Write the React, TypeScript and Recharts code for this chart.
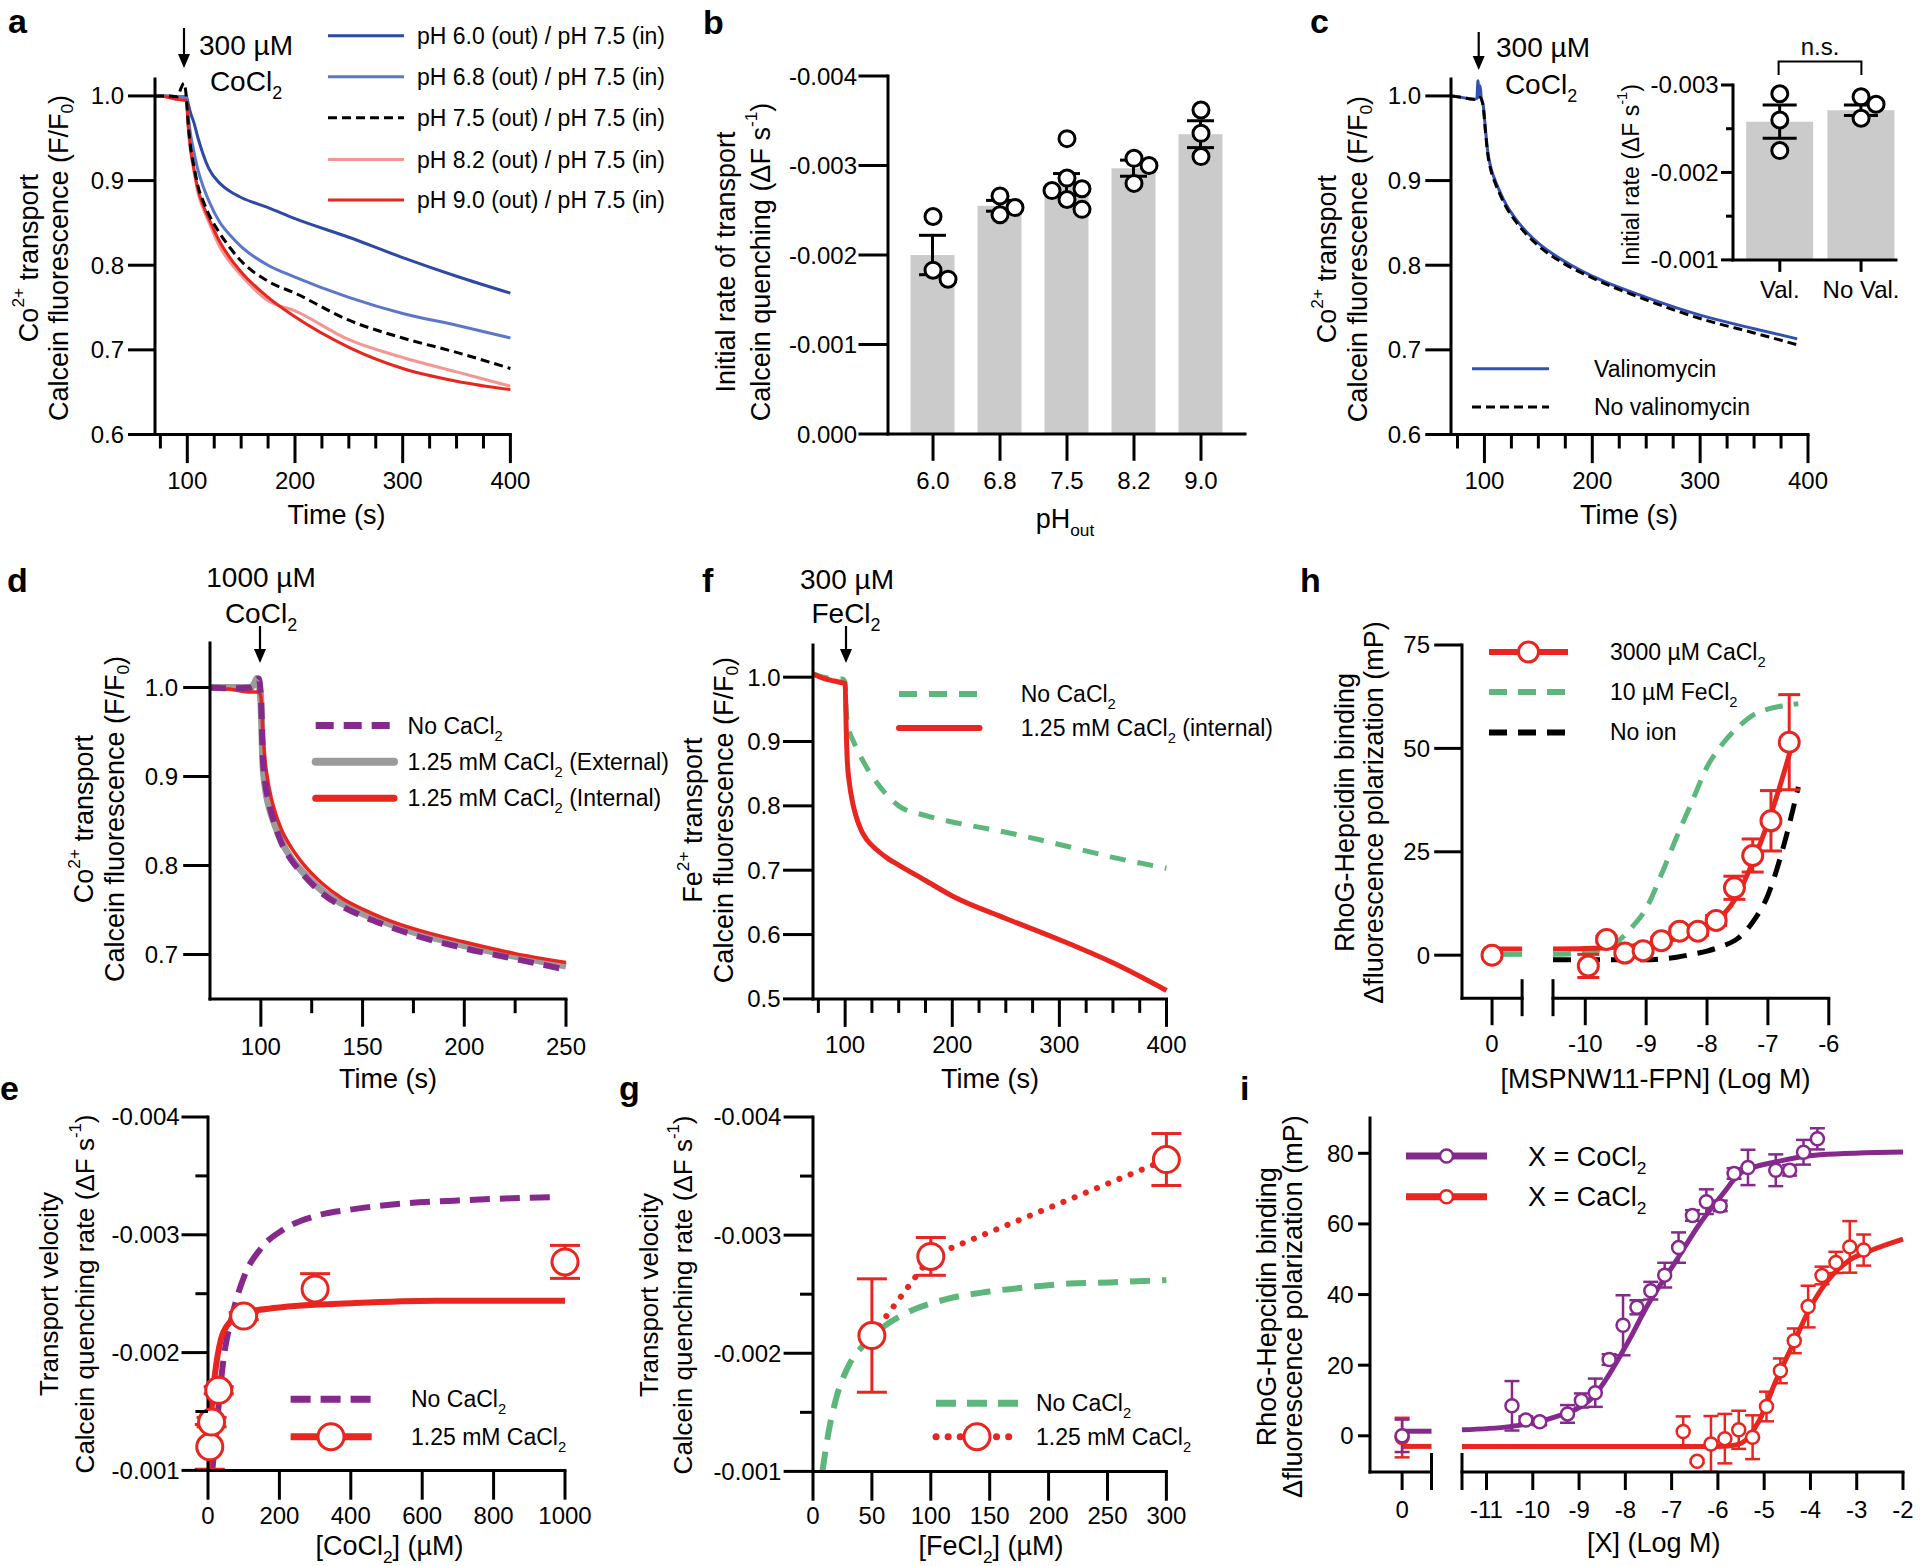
import React from "react";
import { ComposedChart, Line, Bar, Scatter, XAxis, YAxis, ErrorBar } from "recharts";

const FONT = "'Liberation Sans', Arial, Helvetica, sans-serif";
const INK = "#000";
const RED = "#e8251f";
const PURPLE = "#86298d";
const GREEN = "#5db67b";
const GREY = "#9b9b9b";
const NAVY = "#2c4aa5";
const BLUE = "#5b78c8";
const SALMON = "#f49692";
const VALBLUE = "#3351b3";
const BARFILL = "#cbcbcb";

// ---------- a: Co2+ transport at different external pH ----------
const aTime = [70, 80, 90, 97, 99, 101, 103, 106, 110, 115, 120, 130, 140, 150, 175, 200, 250, 300, 350, 400];
const aPh60 = [1.0, 1.0, 0.999, 0.999, 1.0, 0.99, 0.98, 0.969, 0.95, 0.93, 0.914, 0.897, 0.887, 0.88, 0.868, 0.855, 0.833, 0.809, 0.787, 0.767];
const aPh68 = [1.0, 1.0, 0.999, 0.998, 0.998, 0.975, 0.955, 0.935, 0.912, 0.892, 0.876, 0.851, 0.835, 0.822, 0.8, 0.786, 0.762, 0.743, 0.729, 0.714];
const aPh75 = [1.0, 1.0, 0.999, 1.015, 1.0, 0.965, 0.94, 0.918, 0.893, 0.875, 0.86, 0.838, 0.82, 0.805, 0.781, 0.767, 0.735, 0.714, 0.697, 0.678];
const aPh82 = [1.0, 0.999, 0.996, 0.995, 0.995, 0.96, 0.935, 0.912, 0.885, 0.866, 0.851, 0.822, 0.803, 0.788, 0.758, 0.746, 0.712, 0.691, 0.674, 0.657];
const aPh90 = [1.0, 0.999, 0.996, 0.995, 0.995, 0.962, 0.938, 0.915, 0.889, 0.87, 0.855, 0.828, 0.808, 0.792, 0.762, 0.739, 0.703, 0.678, 0.663, 0.653];
const aNames = ["pH 6.0 (out) / pH 7.5 (in)", "pH 6.8 (out) / pH 7.5 (in)", "pH 7.5 (out) / pH 7.5 (in)", "pH 8.2 (out) / pH 7.5 (in)", "pH 9.0 (out) / pH 7.5 (in)"];
const timeTicks = [75, 100, 125, 150, 175, 200, 225, 250, 275, 300, 325, 350, 375, 400];
const timeMajor = [100, 200, 300, 400];
const fluoTicks = [0.6, 0.7, 0.8, 0.9, 1.0];

// ---------- b: initial rate vs pH out ----------
const bCats = ["6.0", "6.8", "7.5", "8.2", "9.0"];
const bMean = [-0.002, -0.00255, -0.00279, -0.00297, -0.00335];
const bSem = [0.00022, 0.00006, 0.00012, 0.00009, 0.00015];
const bDots = [
  [-0.00243, -0.00173, -0.00183],
  [-0.00266, -0.00245, -0.00253],
  [-0.0033, -0.00272, -0.00286, -0.00274, -0.00251, -0.00262],
  [-0.00308, -0.003, -0.0028],
  [-0.00362, -0.00336, -0.0031],
];
const rateTicks = [-0.004, -0.003, -0.002, -0.001, 0];

// ---------- c: valinomycin ----------
const cTime = [70, 80, 90, 93, 94, 95, 96, 97, 99, 101, 103, 106, 110, 115, 120, 130, 140, 150, 175, 200, 250, 300, 350, 390];
const cVal = [1.0, 0.998, 0.996, 0.997, 1.018, 0.998, 1.012, 0.998, 0.988, 0.96, 0.935, 0.915, 0.9, 0.885, 0.872, 0.853, 0.838, 0.826, 0.804, 0.787, 0.762, 0.741, 0.725, 0.713];
const cNoVal = [1.0, 0.998, 0.996, 0.997, 0.997, 0.997, 0.998, 0.997, 0.986, 0.957, 0.932, 0.912, 0.897, 0.882, 0.869, 0.85, 0.835, 0.823, 0.801, 0.785, 0.759, 0.737, 0.72, 0.706];
const ciCats = ["Val.", "No Val."];
const ciMean = [-0.00258, -0.00271];
const ciSem = [0.00019, 0.00006];
const ciDots = [
  [-0.0029, -0.0026, -0.00225],
  [-0.002865, -0.00278, -0.00262],
];

// ---------- d: 1000 uM CoCl2 with/without Ca ----------
const dTime = [75, 85, 95, 97, 98, 99, 100, 101, 102, 104, 107, 110, 115, 120, 130, 140, 150, 160, 175, 200, 225, 250];
const dNoCa = [1.0, 0.999, 1.0, 1.003, 1.008, 1.01, 0.99, 0.92, 0.895, 0.87, 0.845, 0.826, 0.806, 0.792, 0.769, 0.754, 0.743, 0.734, 0.722, 0.707, 0.695, 0.683];
const dCaExt = [1.0, 1.0, 1.0, 1.005, 1.01, 1.005, 0.985, 0.915, 0.89, 0.866, 0.845, 0.828, 0.808, 0.794, 0.772, 0.757, 0.746, 0.737, 0.725, 0.71, 0.698, 0.687];
const dCaInt = [1.0, 0.998, 0.995, 0.995, 0.995, 0.995, 0.99, 0.95, 0.92, 0.888, 0.86, 0.841, 0.82, 0.804, 0.78, 0.763, 0.751, 0.741, 0.729, 0.714, 0.701, 0.691];

// ---------- e: CoCl2 dose response ----------
const eNoCaX = [12, 25, 42, 70, 103, 147, 214, 302, 413, 524, 690, 850, 965];
const eNoCaY = [-0.001, -0.0014, -0.00191, -0.00234, -0.00266, -0.00288, -0.00305, -0.00316, -0.00322, -0.00326, -0.00329, -0.00331, -0.00332];
const eFitX = [0, 3, 9, 20, 36, 59, 103, 192, 413, 635, 1000];
const eFitY = [-0.00118, -0.0013, -0.00149, -0.00183, -0.00211, -0.00225, -0.00234, -0.00238, -0.00242, -0.00244, -0.00244];
const eCaX = [5, 10, 30, 100, 300, 1000];
const eCaY = [-0.0012, -0.00141, -0.00168, -0.00231, -0.00254, -0.00277];
const eCaErr = [0.00019, 0.00004, 0.00003, 0.00003, 0.00013, 0.00014];

// ---------- f: Fe2+ transport ----------
const fTime = [70, 80, 90, 98, 100, 101, 102, 104, 107, 110, 115, 120, 130, 140, 150, 175, 200, 250, 300, 350, 400];
const fCaInt = [1.005, 0.998, 0.994, 0.991, 0.99, 0.92, 0.87, 0.835, 0.805, 0.785, 0.762, 0.748, 0.731, 0.718, 0.708, 0.684, 0.66, 0.625, 0.592, 0.556, 0.513];
const fNoCa = [1.005, 1.0, 0.998, 0.997, 0.992, 0.95, 0.93, 0.915, 0.903, 0.892, 0.875, 0.86, 0.835, 0.815, 0.8, 0.785, 0.775, 0.759, 0.74, 0.72, 0.703];

// ---------- g: FeCl2 dose response ----------
const gNoCaX = [8, 13, 20, 30, 44, 62, 79, 114, 148, 183, 218, 252, 300];
const gNoCaY = [-0.001, -0.00132, -0.00163, -0.00189, -0.00208, -0.00224, -0.00234, -0.00246, -0.00252, -0.00256, -0.00259, -0.0026, -0.00262];
const gCaX = [50, 100, 300];
const gCaY = [-0.00215, -0.00282, -0.00364];
const gCaErr = [0.00048, 0.00016, 0.00022];

// ---------- h: hepcidin binding vs MSPNW11-FPN ----------
const hFitX = [-10.53, -10, -9.5, -9.25, -9, -8.75, -8.5, -8.25, -8, -7.75, -7.5, -7.25, -7, -6.75, -6.5];
const hFe = [0.2, 0.6, 3.0, 6.5, 11.3, 19.5, 28.5, 37, 45.5, 51, 55, 58, 59.5, 60.3, 60.8];
const hNoIon = [-1.1, -1.1, -1.1, -1.1, -1.1, -0.9, -0.5, 0.2, 1.0, 2.2, 4.0, 8.0, 14.5, 26, 40.7];
const hCaFitX = [-10.53, -10, -9.5, -9, -8.5, -8, -7.75, -7.5, -7.25, -7, -6.8, -6.62];
const hCaFitY = [1.5, 1.6, 1.9, 2.6, 4.0, 6.8, 9.5, 14.5, 22.5, 32, 41, 50];
const hCaX = [-9.95, -9.65, -9.35, -9.05, -8.75, -8.45, -8.15, -7.85, -7.55, -7.25, -6.95, -6.65];
const hCaY = [-2.6, 3.8, 0.5, 1.1, 3.5, 5.8, 5.8, 8.4, 16.3, 24.1, 32.5, 51.5];
const hCaErr = [2.8, 0.8, 0.5, 0.5, 0.8, 1.0, 1.0, 1.2, 2.8, 4.0, 7.3, 11.5];
const hZero = { ca: 0, caErr: 0.6, caFit: 1.5, feFit: 0.2 };

// ---------- i: hepcidin binding vs [X] ----------
const iCoX = [-10.45, -10.15, -9.85, -9.25, -8.95, -8.65, -8.35, -8.05, -7.75, -7.45, -7.15, -6.85, -6.55, -6.25, -5.95, -5.65, -5.35, -4.75, -4.45, -4.15, -3.85];
const iCoY = [8.5, 4.5, 4.0, 6.2, 10.0, 12.2, 21.6, 31.3, 36.4, 41.1, 45.5, 53.3, 62.4, 66.3, 65.1, 74.3, 76.0, 75.2, 75.2, 80.3, 84.1];
const iCoErr = [7.0, 1.0, 1.0, 2.5, 2.0, 4.0, 1.5, 8.5, 2.0, 2.5, 3.5, 4.3, 1.5, 3.5, 1.5, 1.5, 5.0, 4.5, 1.5, 3.5, 3.0];
const iCoFitX = [-11.53, -10.5, -9.6, -8.7, -8.0, -7.5, -6.9, -6.4, -5.9, -5.5, -4.7, -3.8, -2.0];
const iCoFitY = [1.7, 2.6, 5.0, 11.0, 25.2, 37.4, 49.6, 59.9, 68.4, 74.5, 77.7, 79.6, 80.4];
const iCaX = [-6.75, -6.45, -6.15, -5.85, -5.55, -5.25, -4.95, -4.65, -4.35, -4.05, -3.75, -3.45, -3.15, -2.85];
const iCaY = [1.2, -7.2, -2.3, -0.8, 1.7, -0.4, 8.3, 18.4, 26.9, 36.6, 45.4, 49.1, 53.5, 52.6];
const iCaErr = [4.3, 0.5, 7.9, 7.0, 5.4, 6.2, 4.2, 3.5, 3.5, 5.9, 2.5, 3.0, 7.3, 4.4];
const iCaFitX = [-11.53, -6.0, -5.8, -5.5, -5.1, -4.74, -4.37, -4.0, -3.63, -3.17, -2.71, -2.0];
const iCaFitY = [-3.0, -3.0, -2.9, -2.1, 4.5, 15.8, 26.1, 36.4, 43.9, 49.6, 52.4, 55.7];
const iZero = { co: 0, coErr: 4.6, ca: -0.5, caErr: 5.6, coFit: 1.3, caFit: -3.0 };

// ---------- helpers ----------
const rows = (xs: number[], ys: number[]) => xs.map((x, i) => ({ x, y: ys[i] }));
const pts = (xs: number[], ys: number[], es: number[]) => xs.map((x, i) => ({ x, y: ys[i], e: es[i] }));
const near = (list: number[], v: number) => list.some((m) => Math.abs(m - v) < 1e-7);

// simple beeswarm: horizontal offsets so replicate dots do not sit on top of each other
function swarm(groups: number[][], pxPerUnit: number, step: number, minDist: number) {
  return groups.map((vals) => {
    const order = vals.map((_, i) => i).sort((a, b) => vals[a] - vals[b]);
    const placed: { x: number; y: number }[] = [];
    const out = vals.map(() => 0);
    for (const i of order) {
      const y = vals[i] * pxPerUnit;
      for (let k = 0; k < 12; k++) {
        const dx = k === 0 ? 0 : (k % 2 ? 1 : -1) * Math.ceil(k / 2) * step;
        if (placed.every((p) => Math.hypot(p.x - dx, p.y - y) >= minDist)) {
          out[i] = dx;
          placed.push({ x: dx, y });
          break;
        }
      }
    }
    return out;
  });
}

type Rect = [number, number, number, number];
const PL = 110, PR = 30, PT = 30, PB = 80;
const AXIS = { stroke: INK, strokeWidth: 3, strokeLinecap: "square" };

function Box({ r, hideY = false, data, children }: { r: Rect; hideY?: boolean; data?: any[]; children?: React.ReactNode }) {
  const w = r[2] - r[0] + PL + PR;
  const h = r[3] - r[1] + PT + PB;
  return (
    <div style={{ position: "absolute", left: r[0] - PL, top: r[1] - PT, width: w, height: h }}>
      <ComposedChart width={w} height={h} data={data} margin={{ top: PT, right: PR, bottom: 0, left: hideY ? PL : 0 }}>
        {children}
      </ComposedChart>
    </div>
  );
}

type XT = { major: number[]; len: number; minor?: number; gap: number; fmt?: (v: number) => string; breaks?: number[] };
const xTick = (o: XT) => (p: any) => {
  const v = Number(p.payload.value);
  const { x, y } = p;
  if (o.breaks && near(o.breaks, v)) {
    return <line x1={x} x2={x} y1={y - 19} y2={y + 18} stroke={INK} strokeWidth={3} />;
  }
  const major = near(o.major, v);
  return (
    <g>
      <line x1={x} x2={x} y1={y} y2={y + (major ? o.len : o.minor ?? 0)} stroke={INK} strokeWidth={3} />
      {major && (
        <text x={x} y={y + o.gap} textAnchor="middle" fontSize={24} fontFamily={FONT} fill={INK}>
          {o.fmt ? o.fmt(v) : String(v)}
        </text>
      )}
    </g>
  );
};

type YT = { major: number[]; len: number; minor?: number; gap: number; fmt?: (v: number) => string };
const yTick = (o: YT) => (p: any) => {
  const v = Number(p.payload.value);
  const { x, y } = p;
  const major = near(o.major, v);
  return (
    <g>
      <line x1={x - (major ? o.len : o.minor ?? 0)} x2={x} y1={y} y2={y} stroke={INK} strokeWidth={3} />
      {major && (
        <text x={x - o.gap} y={y + 8.5} textAnchor="end" fontSize={24} fontFamily={FONT} fill={INK}>
          {o.fmt ? o.fmt(v) : String(v)}
        </text>
      )}
    </g>
  );
};

const xAx = (domain: [number, number], ticks: number[], tick: any) => ({
  type: "number" as const, dataKey: "x", domain, ticks, tick, interval: 0 as const,
  tickSize: 0, tickMargin: 0, tickLine: false, axisLine: AXIS, height: PB,
});
const yAx = (domain: [number, number], ticks: number[], tick: any, reversed = false) => ({
  type: "number" as const, dataKey: "y", domain, ticks, tick, interval: 0 as const,
  tickSize: 0, tickMargin: 0, tickLine: false, axisLine: AXIS, width: PL, reversed,
});
const trace = (data: any[], stroke: string, strokeWidth: number, dash?: string, cap?: "round" | "butt", curve: "monotone" | "linear" = "monotone") => ({
  data, dataKey: "y", type: curve, stroke, strokeWidth, strokeDasharray: dash, strokeLinecap: cap,
  dot: false, activeDot: false, isAnimationActive: false,
});
const ring = (r: number, stroke: string, sw: number, shift?: (p: any) => number) => (p: any) => (
  <circle cx={p.cx + (shift ? shift(p) : 0)} cy={p.cy} r={r} fill="#fff" stroke={stroke} strokeWidth={sw} />
);

const f1 = (v: number) => v.toFixed(1);
const f3 = (v: number) => v.toFixed(3);

// rich text: _{..} subscript, ^{..} superscript
function rich(s: string, fs: number) {
  const out: React.ReactNode[] = [];
  const re = /([_^])\{([^}]*)\}/g;
  let shift = 0, last = 0, k = 0, m: RegExpExecArray | null;
  while ((m = re.exec(s))) {
    if (m.index > last) {
      out.push(<tspan key={k++} dy={-shift}>{s.slice(last, m.index)}</tspan>);
      shift = 0;
    }
    const d = m[1] === "_" ? fs * 0.3 : -fs * 0.38;
    out.push(<tspan key={k++} dy={d - shift} fontSize={fs * 0.64}>{m[2]}</tspan>);
    shift = d;
    last = re.lastIndex;
  }
  if (last < s.length) out.push(<tspan key={k++} dy={-shift}>{s.slice(last)}</tspan>);
  return out;
}
const T = ({ x, y, s, fs = 23, anchor = "start" }: { x: number; y: number; s: string; fs?: number; anchor?: string }) => (
  <text x={x} y={y} fontSize={fs} textAnchor={anchor as any}>{rich(s, fs)}</text>
);
const VT = ({ x, y, s, fs = 27 }: { x: number; y: number; s: string; fs?: number }) => (
  <text x={x} y={y} fontSize={fs} textAnchor="middle" dominantBaseline="central" transform={`rotate(-90 ${x} ${y})`}>{rich(s, fs)}</text>
);
const Arrow = ({ x, y0, y1 }: { x: number; y0: number; y1: number }) => (
  <g>
    <line x1={x} x2={x} y1={y0} y2={y1 - 8} stroke={INK} strokeWidth={2.2} />
    <path d={`M${x - 6},${y1 - 14} L${x},${y1} L${x + 6},${y1 - 14} Z`} fill={INK} />
  </g>
);
const Leg = ({ x0, x1, y, stroke, sw, dash, cap }: { x0: number; x1: number; y: number; stroke: string; sw: number; dash?: string; cap?: any }) => (
  <line x1={x0} x2={x1} y1={y} y2={y} stroke={stroke} strokeWidth={sw} strokeDasharray={dash} strokeLinecap={cap} />
);

// ---------- layout (plot rectangles in page pixels) ----------
const aR: Rect = [155, 78.5, 510.4, 434];
const bR: Rect = [888, 76, 1245, 434];
const cR: Rect = [1451, 78.5, 1808, 434];
const ciR: Rect = [1733, 84.6, 1896, 259.5];
const dR: Rect = [210, 643, 566, 999];
const fR: Rect = [812.5, 644.5, 1166, 998.4];
const hLR: Rect = [1461.5, 644.5, 1521.6, 997.7];
const hRR: Rect = [1553, 644.5, 1828.8, 997.7];
const eR: Rect = [208.4, 1117.3, 565.4, 1470.7];
const gR: Rect = [812.6, 1117.3, 1166, 1471.7];
const iLR: Rect = [1369.5, 1118.3, 1431, 1472.3];
const iRR: Rect = [1461.5, 1118.3, 1902.5, 1472.3];

const bSpread = swarm(bDots, (bR[3] - bR[1]) / 0.004, 15, 15);
const ciSpread = swarm(ciDots, (ciR[3] - ciR[1]) / 0.002, 15, 15);
const bBars = bCats.map((_, i) => ({ x: i, y: bMean[i], e: bSem[i] }));
const bPts = bDots.flatMap((vals, ci) => vals.map((y, j) => ({ x: ci, y, j })));
const ciBars = ciCats.map((_, i) => ({ x: i, y: ciMean[i], e: ciSem[i] }));
const ciPts = ciDots.flatMap((vals, ci) => vals.map((y, j) => ({ x: ci, y, j })));

const letters: [string, number, number][] = [
  ["a", 8, 33], ["b", 703, 34], ["c", 1310, 33], ["d", 7, 592], ["f", 702, 592],
  ["h", 1300, 592], ["e", 0, 1100], ["g", 619, 1100], ["i", 1240, 1100],
];
const aLegY = [35.7, 76.8, 117.8, 159.6, 200];
const aLegStyle = [
  { c: NAVY }, { c: BLUE }, { c: INK, dash: "9 5" }, { c: SALMON }, { c: RED },
];
const rateMinor = [-0.004, -0.0035, -0.003, -0.0025, -0.002, -0.0015, -0.001];
const rateMajor = [-0.004, -0.003, -0.002, -0.001];

export default function App() {
  return (
    <div style={{ position: "absolute", left: 0, top: 0, width: 1920, height: 1566, background: "#fff", overflow: "hidden" }}>
      {/* a */}
      <Box r={aR}>
        <XAxis {...xAx([70, 400], timeTicks, xTick({ major: timeMajor, len: 28.6, minor: 14, gap: 54.6 }))} />
        <YAxis {...yAx([0.6, 1.02], fluoTicks, yTick({ major: fluoTicks, len: 27, gap: 31, fmt: f1 }))} />
        <Line {...trace(rows(aTime, aPh60), NAVY, 3)} />
        <Line {...trace(rows(aTime, aPh68), BLUE, 3)} />
        <Line {...trace(rows(aTime, aPh82), SALMON, 3)} />
        <Line {...trace(rows(aTime, aPh90), RED, 3)} />
        <Line {...trace(rows(aTime, aPh75), INK, 3, "9 5")} />
      </Box>

      {/* b */}
      <Box r={bR} data={bBars}>
        <XAxis {...xAx([-0.672, 4.657], [0, 1, 2, 3, 4], xTick({ major: [0, 1, 2, 3, 4], len: 26.8, gap: 54.6, fmt: (v) => bCats[v] }))} />
        <YAxis {...yAx([-0.004, 0], rateTicks, yTick({ major: rateTicks, len: 29.5, gap: 31, fmt: f3 }), true)} />
        <Bar dataKey="y" fill={BARFILL} barSize={44} isAnimationActive={false}>
          <ErrorBar dataKey="e" width={13.5} strokeWidth={3} stroke={INK} />
        </Bar>
        <Scatter data={bPts} dataKey="y" isAnimationActive={false} shape={ring(8, INK, 3, (p) => bSpread[p.payload.x][p.payload.j])} />
      </Box>

      {/* c main */}
      <Box r={cR}>
        <XAxis {...xAx([69, 400], timeTicks, xTick({ major: timeMajor, len: 28.6, minor: 14, gap: 54.6 }))} />
        <YAxis {...yAx([0.6, 1.02], fluoTicks, yTick({ major: fluoTicks, len: 25.7, gap: 30, fmt: f1 }))} />
        <Line {...trace(rows(cTime, cVal), VALBLUE, 3)} />
        <Line {...trace(rows(cTime, cNoVal), INK, 3, "9 5")} />
      </Box>

      {/* c inset */}
      <Box r={ciR} data={ciBars}>
        <XAxis {...xAx([-0.576, 1.43], [0, 1], xTick({ major: [0, 1], len: 12, gap: 38, fmt: (v) => ciCats[v] }))} />
        <YAxis {...yAx([-0.003, -0.001], [-0.003, -0.0025, -0.002, -0.0015, -0.001], yTick({ major: [-0.003, -0.002, -0.001], len: 12, minor: 7, gap: 14.4, fmt: f3 }), true)} />
        <Bar dataKey="y" fill={BARFILL} barSize={67} isAnimationActive={false}>
          <ErrorBar dataKey="e" width={17} strokeWidth={3} stroke={INK} />
        </Bar>
        <Scatter data={ciPts} dataKey="y" isAnimationActive={false} shape={ring(8, INK, 3, (p) => ciSpread[p.payload.x][p.payload.j])} />
      </Box>

      {/* d */}
      <Box r={dR}>
        <XAxis {...xAx([75, 250], [100, 125, 150, 175, 200, 225, 250], xTick({ major: [100, 150, 200, 250], len: 27.7, minor: 14.2, gap: 55.6 }))} />
        <YAxis {...yAx([0.65, 1.05], [0.7, 0.8, 0.9, 1.0], yTick({ major: [0.7, 0.8, 0.9, 1.0], len: 26.8, gap: 32, fmt: f1 }))} />
        <Line {...trace(rows(dTime, dCaExt), GREY, 7)} />
        <Line {...trace(rows(dTime, dCaInt), RED, 3.5)} />
        <Line {...trace(rows(dTime, dNoCa), PURPLE, 6, "16 10")} />
      </Box>

      {/* f */}
      <Box r={fR}>
        <XAxis {...xAx([70, 400], timeTicks, xTick({ major: timeMajor, len: 28, minor: 14, gap: 54 }))} />
        <YAxis {...yAx([0.5, 1.05], [0.5, 0.6, 0.7, 0.8, 0.9, 1.0], yTick({ major: [0.5, 0.6, 0.7, 0.8, 0.9, 1.0], len: 30, gap: 32.5, fmt: f1 }))} />
        <Line {...trace(rows(fTime, fNoCa), GREEN, 5, "16 12")} />
        <Line {...trace(rows(fTime, fCaInt), RED, 5)} />
      </Box>

      {/* h left (no protein) */}
      <Box r={hLR}>
        <XAxis {...xAx([-1, 1], [0, 1], xTick({ major: [0], len: 27, gap: 54, breaks: [1] }))} />
        <YAxis {...yAx([-10.4, 75], [0, 25, 50, 75], yTick({ major: [0, 25, 50, 75], len: 27.8, gap: 32 }))} />
        <Line {...trace(rows([0, 1], [hZero.feFit, hZero.feFit]), GREEN, 5, undefined, undefined, "linear")} />
        <Line {...trace(rows([0, 1], [hZero.caFit, hZero.caFit]), RED, 5, undefined, undefined, "linear")} />
        <Scatter data={pts([0], [hZero.ca], [hZero.caErr])} dataKey="y" isAnimationActive={false} shape={ring(10, RED, 3)}>
          <ErrorBar dataKey="e" direction="y" width={11} strokeWidth={3} stroke={RED} />
        </Scatter>
      </Box>

      {/* h right */}
      <Box r={hRR} hideY>
        <XAxis {...xAx([-10.53, -6], [-10.53, -10, -9, -8, -7, -6], xTick({ major: [-10, -9, -8, -7, -6], len: 27, gap: 54, breaks: [-10.53] }))} />
        <YAxis type="number" dataKey="y" domain={[-10.4, 75]} hide />
        <Line {...trace(rows(hFitX, hFe), GREEN, 5, "18 11")} />
        <Line {...trace(rows(hFitX, hNoIon), INK, 5, "18 11")} />
        <Line {...trace(rows(hCaFitX, hCaFitY), RED, 5)} />
        <Scatter data={pts(hCaX, hCaY, hCaErr)} dataKey="y" isAnimationActive={false} shape={ring(10, RED, 3)}>
          <ErrorBar dataKey="e" direction="y" width={11} strokeWidth={3} stroke={RED} />
        </Scatter>
      </Box>

      {/* e */}
      <Box r={eR}>
        <XAxis {...xAx([0, 1000], [0, 200, 400, 600, 800, 1000], xTick({ major: [0, 200, 400, 600, 800, 1000], len: 29.3, gap: 54 }))} />
        <YAxis {...yAx([-0.004, -0.001], rateMinor, yTick({ major: rateMajor, len: 26.5, minor: 12.6, gap: 28.4, fmt: f3 }), true)} />
        <Line {...trace(rows(eNoCaX, eNoCaY), PURPLE, 6, "20 10")} />
        <Line {...trace(rows(eFitX, eFitY), RED, 6)} />
        <Scatter data={pts(eCaX, eCaY, eCaErr)} dataKey="y" isAnimationActive={false} shape={ring(13, RED, 3)}>
          <ErrorBar dataKey="e" direction="y" width={15} strokeWidth={3} stroke={RED} />
        </Scatter>
      </Box>

      {/* g */}
      <Box r={gR}>
        <XAxis {...xAx([0, 300], [0, 50, 100, 150, 200, 250, 300], xTick({ major: [0, 50, 100, 150, 200, 250, 300], len: 29.3, gap: 53 }))} />
        <YAxis {...yAx([-0.004, -0.001], rateMinor, yTick({ major: rateMajor, len: 29.4, minor: 13, gap: 31.6, fmt: f3 }), true)} />
        <Line {...trace(rows(gNoCaX, gNoCaY), GREEN, 6, "20 12")} />
        <Line {...trace(rows(gCaX, gCaY), RED, 6, "0.1 12", "round", "linear")} />
        <Scatter data={pts(gCaX, gCaY, gCaErr)} dataKey="y" isAnimationActive={false} shape={ring(13, RED, 3)}>
          <ErrorBar dataKey="e" direction="y" width={15} strokeWidth={3} stroke={RED} />
        </Scatter>
      </Box>

      {/* i left (no ion) */}
      <Box r={iLR}>
        <XAxis {...xAx([-1.07, 0.98], [0, 0.98], xTick({ major: [0], len: 18, gap: 46, breaks: [0.98] }))} />
        <YAxis {...yAx([-10.25, 90], [0, 20, 40, 60, 80], yTick({ major: [0, 20, 40, 60, 80], len: 12, gap: 16.3 }))} />
        <Line {...trace(rows([0, 0.98], [iZero.coFit, iZero.coFit]), PURPLE, 5, undefined, undefined, "linear")} />
        <Line {...trace(rows([0, 0.98], [iZero.caFit, iZero.caFit]), RED, 5, undefined, undefined, "linear")} />
        <Scatter data={pts([0], [iZero.ca], [iZero.caErr])} dataKey="y" isAnimationActive={false} shape={ring(6.5, RED, 2.5)}>
          <ErrorBar dataKey="e" direction="y" width={7.5} strokeWidth={2.5} stroke={RED} />
        </Scatter>
        <Scatter data={pts([0], [iZero.co], [iZero.coErr])} dataKey="y" isAnimationActive={false} shape={ring(6.5, PURPLE, 2.5)}>
          <ErrorBar dataKey="e" direction="y" width={7.5} strokeWidth={2.5} stroke={PURPLE} />
        </Scatter>
      </Box>

      {/* i right */}
      <Box r={iRR} hideY>
        <XAxis {...xAx([-11.53, -2], [-11.53, -11, -10, -9, -8, -7, -6, -5, -4, -3, -2], xTick({ major: [-11, -10, -9, -8, -7, -6, -5, -4, -3, -2], len: 18, gap: 46, breaks: [-11.53] }))} />
        <YAxis type="number" dataKey="y" domain={[-10.25, 90]} hide />
        <Line {...trace(rows(iCoFitX, iCoFitY), PURPLE, 5)} />
        <Line {...trace(rows(iCaFitX, iCaFitY), RED, 5)} />
        <Scatter data={pts(iCoX, iCoY, iCoErr)} dataKey="y" isAnimationActive={false} shape={ring(6.5, PURPLE, 2.5)}>
          <ErrorBar dataKey="e" direction="y" width={7.5} strokeWidth={2.5} stroke={PURPLE} />
        </Scatter>
        <Scatter data={pts(iCaX, iCaY, iCaErr)} dataKey="y" isAnimationActive={false} shape={ring(6.5, RED, 2.5)}>
          <ErrorBar dataKey="e" direction="y" width={7.5} strokeWidth={2.5} stroke={RED} />
        </Scatter>
      </Box>

      {/* text, legends and annotations */}
      <svg width={1920} height={1566} style={{ position: "absolute", left: 0, top: 0, pointerEvents: "none" }} fontFamily={FONT} fill={INK}>
        {letters.map(([l, x, y]) => (
          <text key={l} x={x} y={y} fontSize={34} fontWeight={700}>{l}</text>
        ))}

        {/* a */}
        <Arrow x={184} y0={28} y1={68} />
        <T x={246} y={55} s="300 µM" fs={28} anchor="middle" />
        <T x={246} y={91} s="CoCl_{2}" fs={28} anchor="middle" />
        {aNames.map((n, i) => (
          <g key={n}>
            <Leg x0={328} x1={404} y={aLegY[i]} stroke={aLegStyle[i].c} sw={3} dash={aLegStyle[i].dash} />
            <T x={417} y={aLegY[i] + 8} s={n} />
          </g>
        ))}
        <T x={336.6} y={524} s="Time (s)" fs={27} anchor="middle" />
        <VT x={28.6} y={258} s="Co^{2+} transport" />
        <VT x={59.4} y={258} s="Calcein fluorescence (F/F_{0})" />

        {/* b */}
        <T x={1065} y={528} s="pH_{out}" fs={27} anchor="middle" />
        <VT x={726} y={262} s="Initial rate of transport" />
        <VT x={761} y={262} s="Calcein quenching (ΔF s^{-1})" />

        {/* c */}
        <Arrow x={1478.7} y0={32} y1={70} />
        <T x={1543} y={57} s="300 µM" fs={28} anchor="middle" />
        <T x={1541} y={93.5} s="CoCl_{2}" fs={28} anchor="middle" />
        <Leg x0={1472} x1={1549} y={368.8} stroke={VALBLUE} sw={3} />
        <T x={1594} y={376.8} s="Valinomycin" />
        <Leg x0={1472} x1={1549} y={407} stroke={INK} sw={3} dash="9 5" />
        <T x={1594} y={415} s="No valinomycin" />
        <T x={1629} y={524} s="Time (s)" fs={27} anchor="middle" />
        <VT x={1327} y={259} s="Co^{2+} transport" />
        <VT x={1357.5} y={259} s="Calcein fluorescence (F/F_{0})" />
        <VT x={1631} y={175} s="Initial rate (ΔF s^{-1})" fs={23} />
        <path d="M1778.6,75 V61.4 H1861.4 V75" fill="none" stroke={INK} strokeWidth={2} />
        <T x={1820} y={55} s="n.s." fs={24} anchor="middle" />

        {/* d */}
        <T x={261} y={587} s="1000 µM" fs={28} anchor="middle" />
        <T x={261} y={622.5} s="CoCl_{2}" fs={28} anchor="middle" />
        <Arrow x={260} y0={626} y1={663} />
        <Leg x0={315.7} x1={394} y={725.6} stroke={PURPLE} sw={7} dash="18 10" />
        <T x={407.6} y={733.6} s="No CaCl_{2}" />
        <Leg x0={315.7} x1={394} y={761.8} stroke={GREY} sw={8} cap="round" />
        <T x={407.6} y={769.8} s="1.25 mM CaCl_{2} (External)" />
        <Leg x0={315.7} x1={394} y={798.3} stroke={RED} sw={7} cap="round" />
        <T x={407.6} y={806.3} s="1.25 mM CaCl_{2} (Internal)" />
        <T x={388} y={1088} s="Time (s)" fs={27} anchor="middle" />
        <VT x={84} y={819} s="Co^{2+} transport" />
        <VT x={115} y={819} s="Calcein fluorescence (F/F_{0})" />

        {/* f */}
        <T x={847} y={588.7} s="300 µM" fs={28} anchor="middle" />
        <T x={846} y={622.5} s="FeCl_{2}" fs={28} anchor="middle" />
        <Arrow x={846} y0={626} y1={663} />
        <Leg x0={899} x1={979.5} y={694} stroke={GREEN} sw={6} dash="18 12" />
        <T x={1020.7} y={702} s="No CaCl_{2}" />
        <Leg x0={899} x1={979.5} y={728} stroke={RED} sw={6} cap="round" />
        <T x={1020.7} y={736} s="1.25 mM CaCl_{2} (internal)" />
        <T x={990} y={1088} s="Time (s)" fs={27} anchor="middle" />
        <VT x={693} y={820} s="Fe^{2+} transport" />
        <VT x={723.6} y={820} s="Calcein fluorescence (F/F_{0})" />

        {/* h */}
        <Leg x0={1489} x1={1568} y={652} stroke={RED} sw={6} />
        <circle cx={1528.5} cy={652} r={10} fill="#fff" stroke={RED} strokeWidth={3} />
        <T x={1610} y={660} s="3000 µM CaCl_{2}" />
        <Leg x0={1489} x1={1568} y={692} stroke={GREEN} sw={6} dash="18 11" />
        <T x={1610} y={700} s="10 µM FeCl_{2}" />
        <Leg x0={1489} x1={1568} y={732.4} stroke={INK} sw={6} dash="18 11" />
        <T x={1610} y={740.4} s="No ion" />
        <T x={1655.5} y={1088} s="[MSPNW11-FPN] (Log M)" fs={27} anchor="middle" />
        <VT x={1344.6} y={812.5} s="RhoG-Hepcidin binding" />
        <VT x={1373.6} y={812.5} s="Δfluorescence polarization (mP)" />

        {/* e */}
        <Leg x0={290.6} x1={371.7} y={1399.3} stroke={PURPLE} sw={7} dash="20 10" />
        <T x={411} y={1407.3} s="No CaCl_{2}" />
        <Leg x0={290.6} x1={371.7} y={1436.7} stroke={RED} sw={7} />
        <circle cx={331} cy={1436.7} r={13} fill="#fff" stroke={RED} strokeWidth={3} />
        <T x={411} y={1444.7} s="1.25 mM CaCl_{2}" />
        <T x={389.5} y={1555} s="[CoCl_{2}] (µM)" fs={27} anchor="middle" />
        <VT x={49.4} y={1294} s="Transport velocity" fs={26} />
        <VT x={85} y={1294} s="Calcein quenching rate (ΔF s^{-1})" fs={26} />

        {/* g */}
        <Leg x0={936} x1={1018} y={1403.3} stroke={GREEN} sw={7} dash="20 11" />
        <T x={1036} y={1411.3} s="No CaCl_{2}" />
        <Leg x0={936} x1={1018} y={1436.7} stroke={RED} sw={7} dash="0.1 12" cap="round" />
        <circle cx={977} cy={1436.7} r={13} fill="#fff" stroke={RED} strokeWidth={3} />
        <T x={1036} y={1444.7} s="1.25 mM CaCl_{2}" />
        <T x={991} y={1555} s="[FeCl_{2}] (µM)" fs={27} anchor="middle" />
        <VT x={648.6} y={1295} s="Transport velocity" fs={26} />
        <VT x={683} y={1295} s="Calcein quenching rate (ΔF s^{-1})" fs={26} />

        {/* i */}
        <Leg x0={1406} x1={1487} y={1156} stroke={PURPLE} sw={7} />
        <circle cx={1446.5} cy={1156} r={6.5} fill="#fff" stroke={PURPLE} strokeWidth={2.5} />
        <T x={1528} y={1165.5} s="X = CoCl_{2}" fs={27} />
        <Leg x0={1406} x1={1487} y={1196.7} stroke={RED} sw={7} />
        <circle cx={1446.5} cy={1196.7} r={6.5} fill="#fff" stroke={RED} strokeWidth={2.5} />
        <T x={1528} y={1206.2} s="X = CaCl_{2}" fs={27} />
        <T x={1653.8} y={1552} s="[X] (Log M)" fs={27} anchor="middle" />
        <VT x={1267} y={1306.7} s="RhoG-Hepcidin binding" />
        <VT x={1292.7} y={1306.7} s="Δfluorescence polarization (mP)" />
      </svg>
    </div>
  );
}
